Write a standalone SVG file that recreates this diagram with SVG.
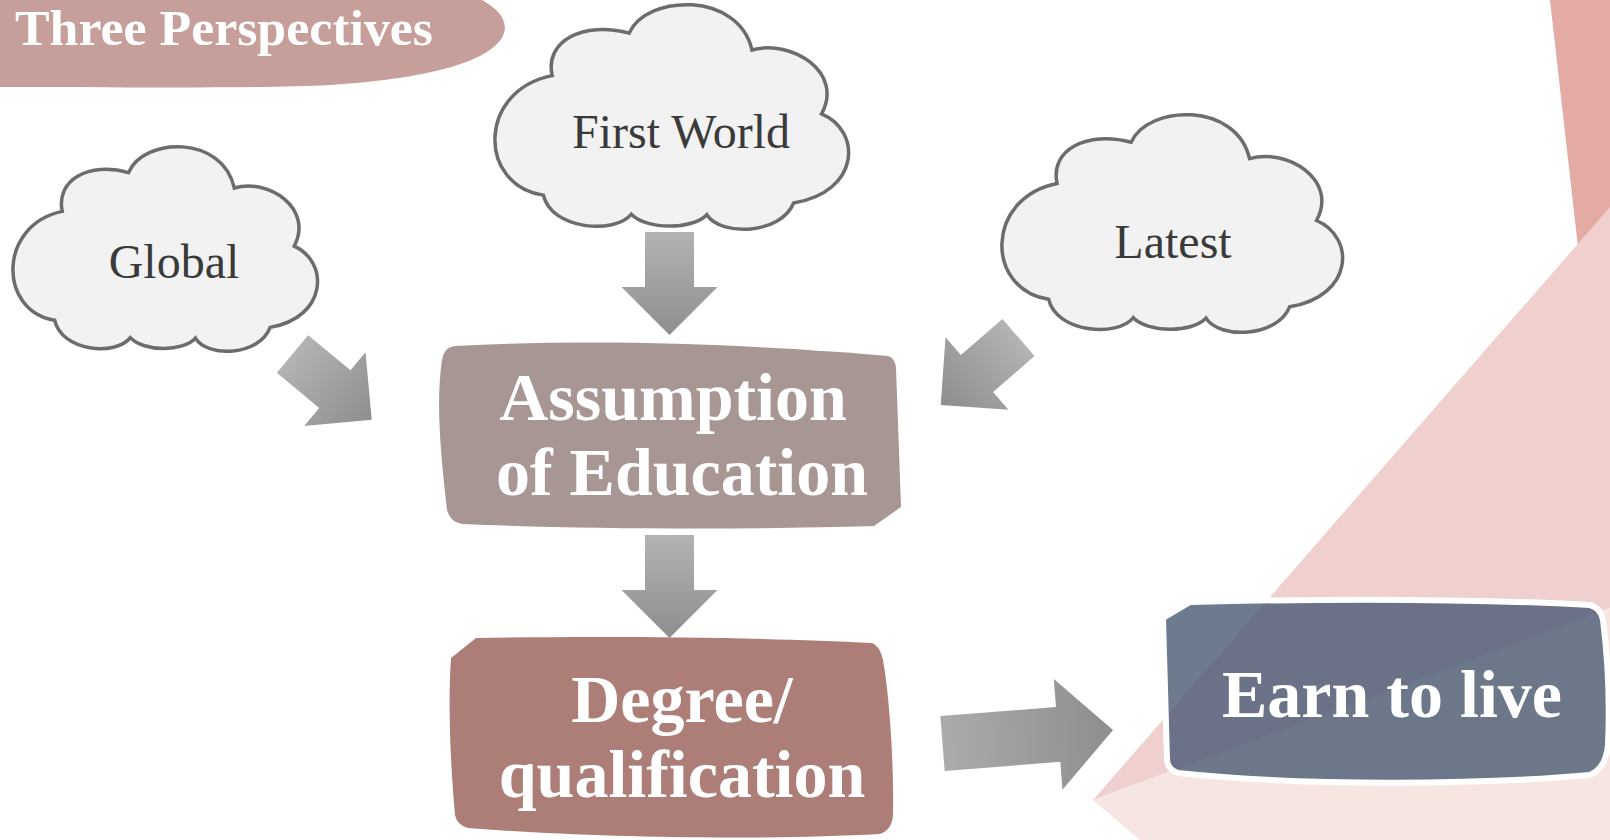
<svg xmlns="http://www.w3.org/2000/svg" xmlns:xlink="http://www.w3.org/1999/xlink" width="1610" height="840" viewBox="0 0 1610 840">
<style>
.cloud{fill:#F2F2F2;stroke:#6E6B6B;stroke-width:3.5}
.ctext{font-family:"Liberation Serif","Times New Roman",serif;font-size:48px;fill:#3A3A3A;text-anchor:middle}
.btext{font-family:"Liberation Serif","Times New Roman",serif;font-weight:bold;font-size:68px;fill:#FFFFFF;text-anchor:middle}
.arr{fill:url(#g1)}
</style>
<defs>
<linearGradient id="g1" gradientUnits="userSpaceOnUse" x1="0" y1="0" x2="103" y2="0">
<stop offset="0" stop-color="#B3B3B3"/><stop offset="1" stop-color="#8E8E8E"/>
</linearGradient>
<linearGradient id="g2" gradientUnits="userSpaceOnUse" x1="0" y1="0" x2="171" y2="0">
<stop offset="0" stop-color="#ABABAB"/><stop offset="1" stop-color="#8E8E8E"/>
</linearGradient>
<path id="cloudp" vector-effect="non-scaling-stroke" d="M137,845 C-50,800 -50,380 162,314 C140,160 250,70 380,125 C430,-50 690,-60 728,200 C840,150 990,300 925,484 C1040,560 1035,830 846,880 C810,1020 640,1030 600,932 C560,1000 430,1000 386,930 C340,1020 160,1000 137,845 Z"/>
<polygon id="arrow" points="0,-24.5 55,-24.5 55,-48 103,0 55,48 55,24.5 0,24.5"/>
<clipPath id="earnclip"><path d="M1190,602 C1350,598 1480,599 1590,605 Q1601,608 1603,620 C1608,660 1610,700 1608,745 Q1606,768 1590,775 C1480,785 1300,786 1178,773 Q1168,770 1167,760 L1163,618 Z"/></clipPath>
</defs>
<rect width="1610" height="840" fill="#FFFFFF"/>
<!-- background decoration -->
<polygon points="1550,0 1610,0 1610,300 1584,300" fill="#E4AAA4"/>
<polygon points="1610,207 1093,800 1610,608" fill="#F0D0CE"/>
<polygon points="1093,800 1610,608 1610,840 1140,840" fill="#F7E5E2"/>

<g id="title">
<path d="M0,0 L482,0 C498,9 508,20 504,33 C496,58 440,78 330,85 C250,89 100,87 0,87 Z" fill="#C69F9A"/>
<text x="15" y="45" font-family="Liberation Serif, Times New Roman, serif" font-weight="bold" font-size="50" textLength="418" lengthAdjust="spacingAndGlyphs" fill="#FFFFFF">Three Perspectives</text>
</g>

<g id="node-global">
<use href="#cloudp" class="cloud" transform="translate(13,147) scale(0.304,0.205)"/>
<text class="ctext" x="174" y="278">Global</text>
</g>
<g id="node-firstworld">
<use href="#cloudp" class="cloud" transform="translate(495,5) scale(0.353,0.225)"/>
<text class="ctext" x="681" y="148">First World</text>
</g>
<g id="node-latest">
<use href="#cloudp" class="cloud" transform="translate(1002,115) scale(0.340,0.218)"/>
<text class="ctext" x="1173" y="258">Latest</text>
</g>

<g id="node-assumption">
<path d="M455,346 C600,338 760,345 888,356 Q895,358 896,368 L901,507 L874,526 C740,530 580,529 462,524 Q450,522 447,510 C440,450 436,400 442,360 Q444,347 455,346 Z" fill="#A89694"/>
<text class="btext" x="673" y="420">Assumption</text>
<text class="btext" x="682" y="495">of Education</text>
</g>

<g id="node-degree">
<path d="M476,638 C600,636 760,637 872,643 Q880,646 883,660 C890,700 894,770 893,815 Q892,830 880,834 C750,841 580,837 468,828 Q457,825 455,815 C450,760 448,700 451,658 Z" fill="#AD7E78"/>
<text class="btext" x="682" y="722">Degree/</text>
<text class="btext" x="682" y="797">qualification</text>
</g>

<g id="node-earn">
<g clip-path="url(#earnclip)">
<rect x="1150" y="590" width="460" height="200" fill="#6B7186"/>
<polygon points="1610,207 1093,800 1000,800 1000,207" fill="#6C7C8E"/>
<polygon points="1093,800 1610,608 1610,840 1093,840" fill="#6C788A"/>
</g>
<path d="M1190,602 C1350,598 1480,599 1590,605 Q1601,608 1603,620 C1608,660 1610,700 1608,745 Q1606,768 1590,775 C1480,785 1300,786 1178,773 Q1168,770 1167,760 L1163,618 Z" fill="none" stroke="#FFFFFF" stroke-width="6"/>
<text class="btext" x="1392" y="717" font-size="66">Earn to live</text>
</g>

<g id="connectors">
<use href="#arrow" class="arr" transform="translate(669.5,232) rotate(90)"/>
<use href="#arrow" class="arr" transform="translate(669.5,535) rotate(90)"/>
<use href="#arrow" class="arr" transform="translate(292.5,354) rotate(39.7)"/>
<use href="#arrow" class="arr" transform="translate(1018.5,337.5) rotate(139)"/>
<polygon points="0,-27.5 116,-27.5 116,-55.5 171,0 116,55.5 116,27.5 0,27.5" fill="url(#g2)" transform="translate(942.5,743.5) rotate(-4.5)"/>
</g>
</svg>
